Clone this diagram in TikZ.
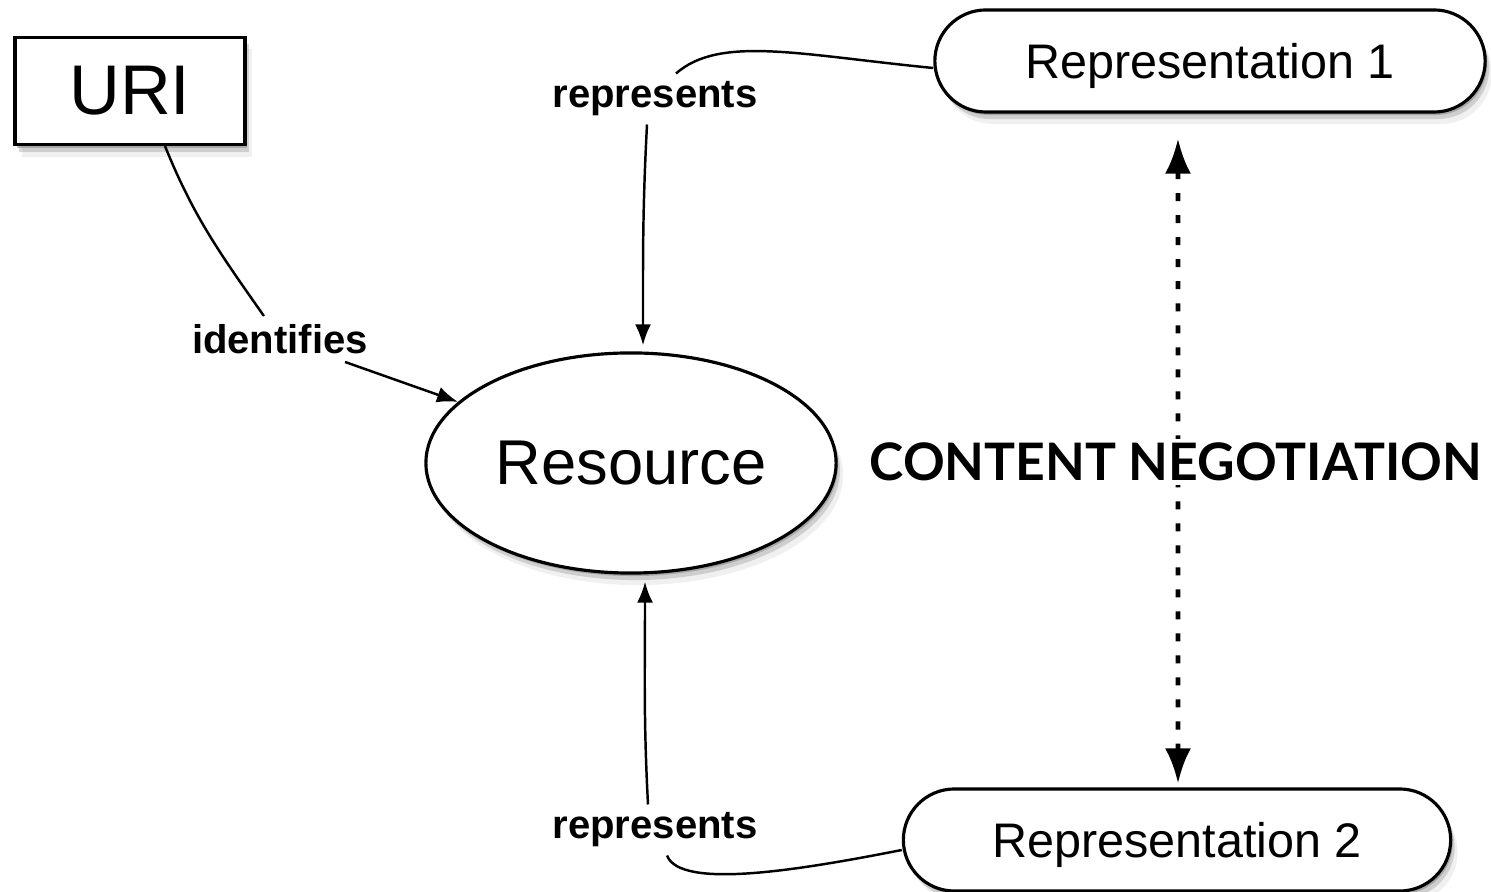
\documentclass[tikz,border=0pt]{standalone}
\usepackage{fontspec}
\setmainfont{Liberation Sans}
\newfontfamily\negofont{Lato}
\usetikzlibrary{shapes.geometric, shapes.misc, shadows, arrows.meta, positioning}

\tikzset{
  softshadow/.style={
    drop shadow={shadow xshift=0.02cm, shadow yshift=-0.03cm, opacity=.5},
    drop shadow={shadow xshift=0.04cm, shadow yshift=-0.07cm, opacity=.3},
    drop shadow={shadow xshift=0.07cm, shadow yshift=-0.12cm, opacity=.12}},
  uribox/.style={draw, line width=0.9pt, fill=white, softshadow, inner sep=0pt,
    minimum width=2.3cm, minimum height=1.07cm, font=\fontsize{20}{24}\selectfont},
  resbox/.style={ellipse, draw, line width=0.9pt, fill=white, softshadow, inner sep=0pt,
    minimum width=4.1cm, minimum height=2.2cm, font=\fontsize{18}{22}\selectfont},
  repbox/.style={rounded rectangle, draw, line width=0.9pt, fill=white, softshadow, inner sep=0pt,
    minimum height=1.02cm, text depth=0pt, font=\fontsize{13.8}{17}\selectfont},
  lbl/.style={font=\fontsize{11.4}{13}\selectfont\bfseries, inner sep=2pt},
  nego/.style={fill=white, inner sep=1pt, font=\negofont\bfseries\fontsize{14.7}{18}\selectfont},
  arr/.style={-{Latex[length=2.1mm, width=1.6mm]}},
  negarrow/.style={{Latex[length=3.5mm, width=2.6mm]}-{Latex[length=3.5mm, width=2.6mm]},
    line width=1.4pt, dash pattern=on 0.8mm off 1.4mm}
}

\begin{document}
\begin{tikzpicture}[x=0.01cm, y=-0.01cm, line width=0.7pt]
  \useasboundingbox (0,0) rectangle (1491,892);
  % Knoten
  \node[uribox] (uri) at (130,91) {URI};
  \node[resbox] (res) at (631,463) {Resource};
  \node[repbox, minimum width=5.5cm] (rep1) at (1210,61) {Representation 1};
  \node[repbox, minimum width=5.47cm] (rep2) at (1177,840) {Representation 2};
  \node[lbl] (ident) at (280,339) {identifies};
  \node[lbl] (lbl1) at (655,99) {represents};
  \node[lbl] (lbl2) at (655,830) {represents};
  % URI -> Resource
  \draw ([xshift=0.35cm]uri.south) to[out=-68, in=125] (ident);
  \draw[arr] (ident) -- (res);
  % Representation 1 -> Resource
  \draw ([yshift=-0.07cm]rep1.west) .. controls (800,55) and (720,35) .. ([xshift=0.21cm]lbl1.north);
  \draw[arr] ([xshift=-0.08cm]lbl1.south) to[out=-93, in=90] ([xshift=0.12cm,yshift=0.06cm]res.north);
  % Representation 2 -> Resource
  \draw ([yshift=-0.1cm]rep2.west) .. controls (800,870) and (680,890) .. ([xshift=0.12cm]lbl2.south);
  \draw[arr] ([xshift=-0.07cm]lbl2.north) to[out=93, in=-90] ([xshift=0.14cm,yshift=-0.07cm]res.south);
  % content negotiation
  \draw[negarrow] ([xshift=-0.32cm,yshift=-0.25cm]rep1.south) -- ([xshift=0.01cm,yshift=0.04cm]rep2.north);
  \node[nego] (neg) at (1176,462) {CONTENT NEGOTIATION};
\end{tikzpicture}
\end{document}
